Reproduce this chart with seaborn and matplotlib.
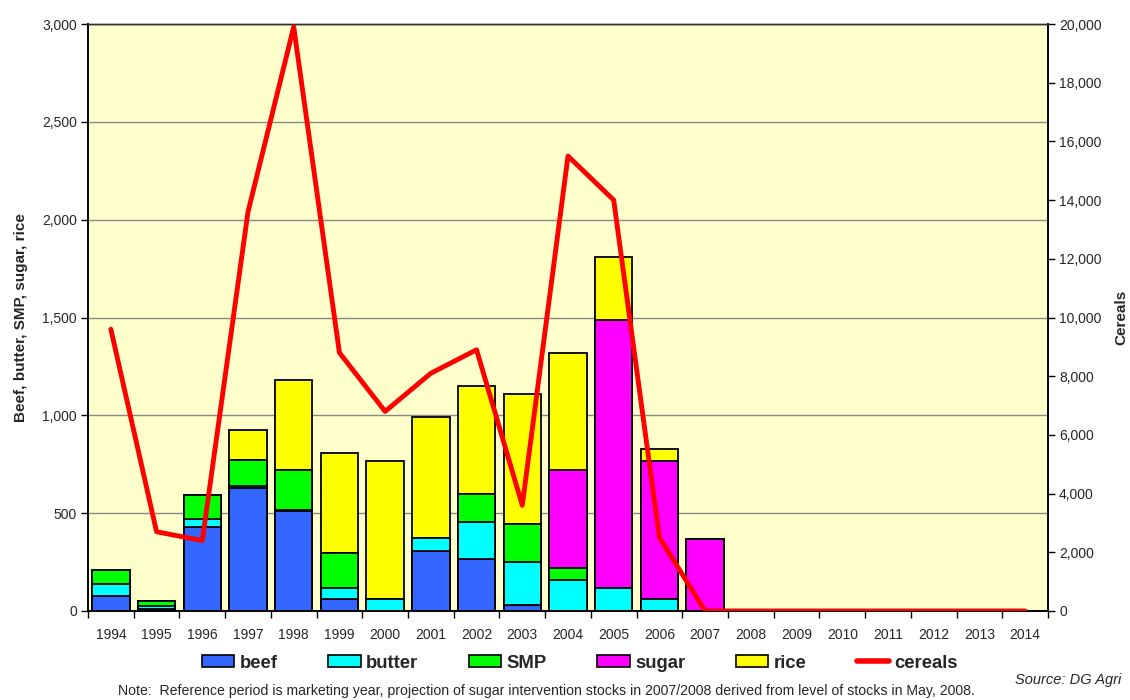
import numpy as np
import pandas as pd
import matplotlib
matplotlib.use("Agg")
import matplotlib.pyplot as plt
import seaborn as sns
from matplotlib.patches import Patch
from matplotlib.lines import Line2D
from matplotlib.ticker import FuncFormatter, MultipleLocator

years = [str(y) for y in range(1994, 2015)]
beef   = [77, 10, 430, 627, 510, 60, 0, 307, 264, 31, 0, 0, 0, 0, 0, 0, 0, 0, 0, 0, 0]
butter = [59, 17, 42, 12, 5, 56, 63, 65, 191, 221, 158, 119, 63, 0, 0, 0, 0, 0, 0, 0, 0]
smp    = [74, 23, 123, 133, 204, 180, 0, 0, 141, 194, 62, 0, 0, 0, 0, 0, 0, 0, 0, 0, 0]
sugar  = [0, 0, 0, 0, 0, 0, 0, 0, 0, 0, 499, 1368, 704, 366, 0, 0, 0, 0, 0, 0, 0]
rice   = [0, 0, 0, 151, 462, 510, 702, 619, 554, 665, 599, 320, 59, 0, 0, 0, 0, 0, 0, 0, 0]
cereals = [9600, 2700, 2400, 13600, 19900, 8800, 6800, 8100, 8900, 3600, 15500, 14000, 2500, 0, 0, 0, 0, 0, 0, 0, 0]

series_names = ["beef", "butter", "SMP", "sugar", "rice"]
series_vals = [beef, butter, smp, sugar, rice]
colors = ["#3366FF", "#00FFFF", "#00FF00", "#FF00FF", "#FFFF00"]

sns.set_theme(style="white")
plt.rcParams["font.family"] = ["Liberation Sans", "DejaVu Sans"]

fig = plt.figure(figsize=(11.3, 7.0), dpi=100)
ax = fig.add_axes([88/1130, 1 - 611/700, 960/1130, 587/700])
ax.set_facecolor("#FFFFCC")

cum = np.cumsum(np.array(series_vals, dtype=float), axis=0)
df = pd.DataFrame({"year": years})
for i in range(len(series_names) - 1, -1, -1):
    df["v"] = cum[i]
    sns.barplot(data=df, x="year", y="v", color=colors[i], saturation=1,
                edgecolor="black", linewidth=1.3, width=0.82, ax=ax, zorder=2)

ax.set_ylim(0, 3000)
ax.set_xlim(-0.5, len(years) - 0.5)
ax.yaxis.set_major_locator(MultipleLocator(500))
ax.yaxis.set_major_formatter(FuncFormatter(lambda v, p: f"{int(v):,}"))
ax.grid(axis="y", color="#888888", linewidth=1, zorder=0)
ax.set_axisbelow(True)
ax.set_xlabel("")
ax.set_ylabel("Beef, butter, SMP, sugar, rice", fontsize=11, fontweight="bold", labelpad=10)
ax.tick_params(axis="y", labelsize=10, length=5, width=1, direction="out", color="black", left=True, pad=3)
ax.tick_params(axis="x", which="major", labelsize=10, length=0, pad=12)
ax.set_xticks(np.arange(-0.5, len(years), 1), minor=True)
ax.tick_params(axis="x", which="minor", length=5, width=1, direction="out", color="black", bottom=True)

ax2 = ax.twinx()
sns.lineplot(x=np.arange(len(years)), y=cereals, color="#FF0000", linewidth=3.5, ax=ax2, zorder=5)
ax2.set_ylim(0, 20000)
ax2.yaxis.set_major_locator(MultipleLocator(2000))
ax2.yaxis.set_major_formatter(FuncFormatter(lambda v, p: f"{int(v):,}"))
ax2.set_ylabel("Cereals", fontsize=11, fontweight="bold", labelpad=9)
ax2.tick_params(axis="y", labelsize=10, length=5, width=1, direction="out", color="black", right=True, pad=3)
ax2.set_xlim(-0.5, len(years) - 0.5)

for a in (ax, ax2):
    for s in ["left", "right", "bottom"]:
        a.spines[s].set_color("black")
        a.spines[s].set_linewidth(1.2)
    a.spines["top"].set_color("#333333")
    a.spines["top"].set_linewidth(1)

handles = [Patch(facecolor=c, edgecolor="black", linewidth=1.2, label=n) for c, n in zip(colors, series_names)]
handles.append(Line2D([0], [0], color="#FF0000", linewidth=4, label="cereals"))
leg = fig.legend(handles=handles, loc="center", bbox_to_anchor=(580/1130, 1 - 663/700), ncol=6,
                 frameon=False, prop={"weight": "bold", "size": 13.3}, handlelength=1.75,
                 handleheight=0.65, handletextpad=0.28, columnspacing=2.75)

fig.text(546/1130, 1 - 691/700,
         "Note:  Reference period is marketing year, projection of sugar intervention stocks in 2007/2008 derived from level of stocks in May, 2008.",
         ha="center", va="center", fontsize=10.2)
fig.text(1121/1130, 1 - 680/700, "Source: DG Agri", ha="right", va="center", fontsize=10.5, style="italic")

fig.savefig("out.png", dpi=100, facecolor="white")
